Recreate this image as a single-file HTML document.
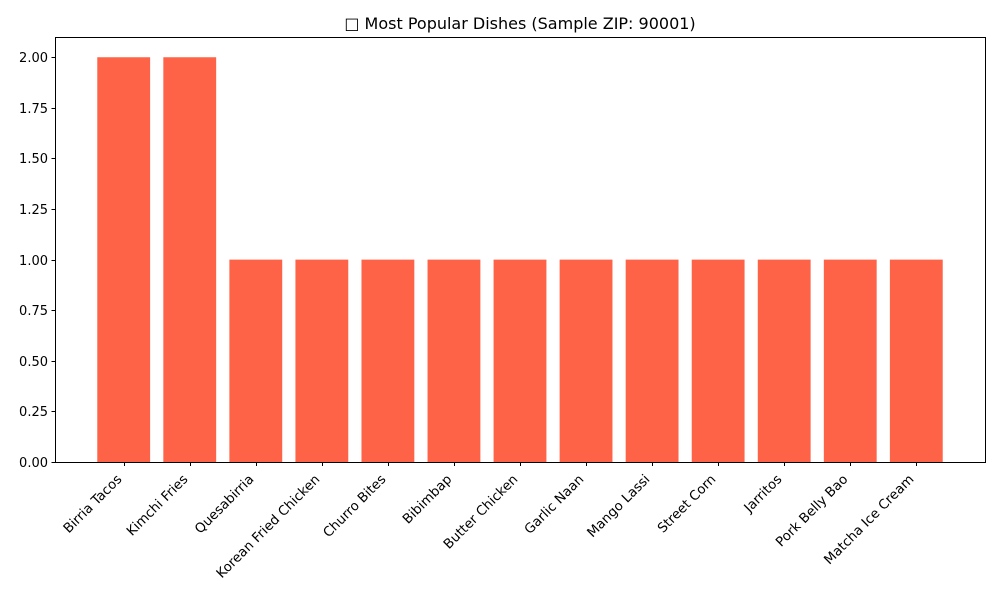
<!DOCTYPE html>
<html><head><meta charset="utf-8"><style>
body{margin:0;background:#fff;}
svg{display:block;font-family:"DejaVu Sans","Liberation Sans",sans-serif;}
</style></head><body>
<svg id="chart" width="1000" height="600">
<rect width="1000" height="600" fill="#fff"/>
<text x="520" y="29" text-anchor="middle" font-size="16" fill="#000">□ Most Popular Dishes (Sample ZIP: 90001)</text>
<g id="bars"></g><g id="yaxis"></g><g id="xaxis"></g>
<rect x="55.5" y="37.5" width="930" height="425" fill="none" stroke="#000" stroke-width="1"/>
</svg>
<script>
const categories=["Birria Tacos","Kimchi Fries","Quesabirria","Korean Fried Chicken","Churro Bites","Bibimbap","Butter Chicken","Garlic Naan","Mango Lassi","Street Corn","Jarritos","Pork Belly Bao","Matcha Ice Cream"];
const values=[2,2,1,1,1,1,1,1,1,1,1,1,1];
const yTicks=[0,0.25,0.5,0.75,1.0,1.25,1.5,1.75,2.0];
const yTickLabels=["0.00","0.25","0.50","0.75","1.00","1.25","1.50","1.75","2.00"];
const NS="http://www.w3.org/2000/svg";
const L=55,R=985,T=37,B=462;
const yMax=Math.max(...values)*1.05;
const n=categories.length;
const xMin=-0.4-0.05*(n-1+0.8),xMax=n-1+0.4+0.05*(n-1+0.8);
const xs=v=>L+(v-xMin)/(xMax-xMin)*(R-L);
const ys=v=>B-v/yMax*(B-T);
function mk(t,a,p){const e=document.createElementNS(NS,t);for(const k in a)e.setAttribute(k,a[k]);p.appendChild(e);return e;}
const gb=document.getElementById('bars'),gy=document.getElementById('yaxis'),gx=document.getElementById('xaxis');
values.forEach((v,i)=>{
 const x0=xs(i-0.4),x1=xs(i+0.4);
 const r=mk('rect',{x:x0,y:ys(v),width:x1-x0,height:B-ys(v),fill:'#ff6347'},gb);
 
 
});
yTicks.forEach((t,i)=>{
 const y=Math.round(ys(t))+0.5;
 const l=mk('line',{x1:L-3.5,x2:L+0.5,y1:y,y2:y,stroke:'#000'},gy);
 
 
 const tx=mk('text',{x:L-7,y:y+4.5,'text-anchor':'end','font-size':'13',fill:'#000'},gy);
 tx.textContent=yTickLabels[i];
 
 
});
categories.forEach((c,i)=>{
 const x=Math.round(xs(i))+0.5;
 const l=mk('line',{x1:x,x2:x,y1:B,y2:B+4,stroke:'#000'},gx);
 
 
 const ax=x-2,ay=B+18;
 const tx=mk('text',{x:ax,y:ay,'text-anchor':'end','font-size':'13.3',fill:'#000',transform:`rotate(-45 ${ax} ${ay})`},gx);
 tx.textContent=c;
 
 
});
</script>
</body></html>
